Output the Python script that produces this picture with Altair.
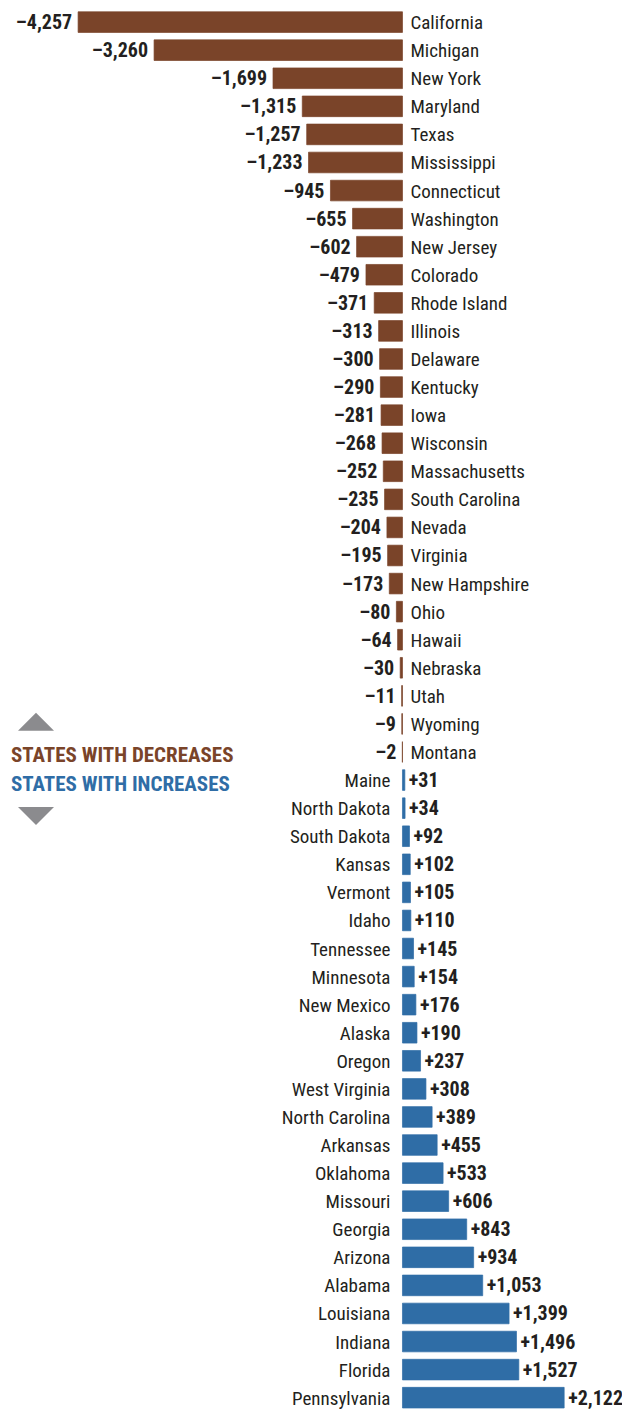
import altair as alt
import pandas as pd

states = ["California", "Michigan", "New York", "Maryland", "Texas", "Mississippi",
          "Connecticut", "Washington", "New Jersey", "Colorado", "Rhode Island",
          "Illinois", "Delaware", "Kentucky", "Iowa", "Wisconsin", "Massachusetts",
          "South Carolina", "Nevada", "Virginia", "New Hampshire", "Ohio", "Hawaii",
          "Nebraska", "Utah", "Wyoming", "Montana", "Maine", "North Dakota",
          "South Dakota", "Kansas", "Vermont", "Idaho", "Tennessee", "Minnesota",
          "New Mexico", "Alaska", "Oregon", "West Virginia", "North Carolina",
          "Arkansas", "Oklahoma", "Missouri", "Georgia", "Arizona", "Alabama",
          "Louisiana", "Indiana", "Florida", "Pennsylvania"]
values = [-4257, -3260, -1699, -1315, -1257, -1233, -945, -655, -602, -479, -371,
          -313, -300, -290, -281, -268, -252, -235, -204, -195, -173, -80, -64,
          -30, -11, -9, -2, 31, 34, 92, 102, 105, 110, 145, 154, 176, 190, 237,
          308, 389, 455, 533, 606, 843, 934, 1053, 1399, 1496, 1527, 2122]
legend_labels = ["STATES WITH DECREASES", "STATES WITH INCREASES"]

BROWN = "#7A4429"
BLUE = "#2F6DA6"
GRAY = "#8B8B8E"
INK = "#231F20"
FONT = "'Roboto Condensed', 'DejaVu Sans Condensed', Roboto, sans-serif"


def fmt(v):
    s = f"{abs(v):,}"
    return ("\u2013" if v < 0 else "+") + s


df = pd.DataFrame({
    "state": states,
    "value": values,
    "dir": ["dec" if v < 0 else "inc" for v in values],
    "label": [fmt(v) for v in values],
})

xscale = alt.Scale(domain=[-5177, 2881])
yscale = alt.Scale(range=[3.8, 1400], paddingInner=0.265, paddingOuter=0)

base = alt.Chart(df).encode(
    y=alt.Y("state:N", sort=states, scale=yscale, axis=None),
)

bars = base.mark_bar(strokeWidth=0.7).encode(
    x=alt.X("value:Q", scale=xscale, axis=None),
    color=alt.Color("dir:N", scale=alt.Scale(domain=["dec", "inc"], range=[BROWN, BLUE]), legend=None),
    stroke=alt.Stroke("dir:N", scale=alt.Scale(domain=["dec", "inc"], range=[BROWN, BLUE]), legend=None),
)

dec = base.transform_filter(alt.datum.value < 0)
inc = base.transform_filter(alt.datum.value > 0)

dec_vals = dec.mark_text(align="right", baseline="middle", dx=-6, dy=1, font=FONT,
                         fontSize=20, fontWeight="bold", color=INK).encode(
    x=alt.X("value:Q", scale=xscale), text="label:N")
dec_names = dec.mark_text(align="left", baseline="middle", dx=8, dy=1, font=FONT,
                          fontSize=19, color=INK).encode(
    x=alt.datum(0, scale=xscale), text="state:N")
inc_names = inc.mark_text(align="right", baseline="middle", dx=-12, dy=1, font=FONT,
                          fontSize=19, color=INK).encode(
    x=alt.datum(0, scale=xscale), text="state:N")
inc_vals = inc.mark_text(align="left", baseline="middle", dx=4, dy=1, font=FONT,
                         fontSize=20, fontWeight="bold", color=INK).encode(
    x=alt.X("value:Q", scale=xscale), text="label:N")

leg_df = pd.DataFrame({"t": legend_labels})
leg_dec = alt.Chart(leg_df).transform_filter(alt.datum.t == legend_labels[0]).mark_text(
    align="left", baseline="alphabetic", font=FONT, fontSize=21, fontWeight="bold",
    color=BROWN).encode(x=alt.value(3), y=alt.value(753.5), text="t:N")
leg_inc = alt.Chart(leg_df).transform_filter(alt.datum.t == legend_labels[1]).mark_text(
    align="left", baseline="alphabetic", font=FONT, fontSize=21, fontWeight="bold",
    color=BLUE).encode(x=alt.value(3), y=alt.value(782.5), text="t:N")

tri_up = alt.Chart(leg_df).transform_filter(alt.datum.t == legend_labels[0]).mark_point(
    shape="M-1,0.5L1,0.5L0,-0.5Z", size=1296, filled=True, opacity=1, color=GRAY,
    strokeWidth=0).encode(x=alt.value(28), y=alt.value(713.8))
tri_dn = alt.Chart(leg_df).transform_filter(alt.datum.t == legend_labels[1]).mark_point(
    shape="M-1,-0.5L1,-0.5L0,0.5Z", size=1296, filled=True, opacity=1, color=GRAY,
    strokeWidth=0).encode(x=alt.value(28), y=alt.value(808))

chart = alt.layer(bars, dec_vals, dec_names, inc_names, inc_vals,
                  leg_dec, leg_inc, tri_up, tri_dn).properties(
    width=614, height=1404, autosize="none", padding=0,
).configure_view(strokeWidth=0, stroke="transparent")

chart.save("out.html", embed_options={"renderer": "svg", "actions": False})
